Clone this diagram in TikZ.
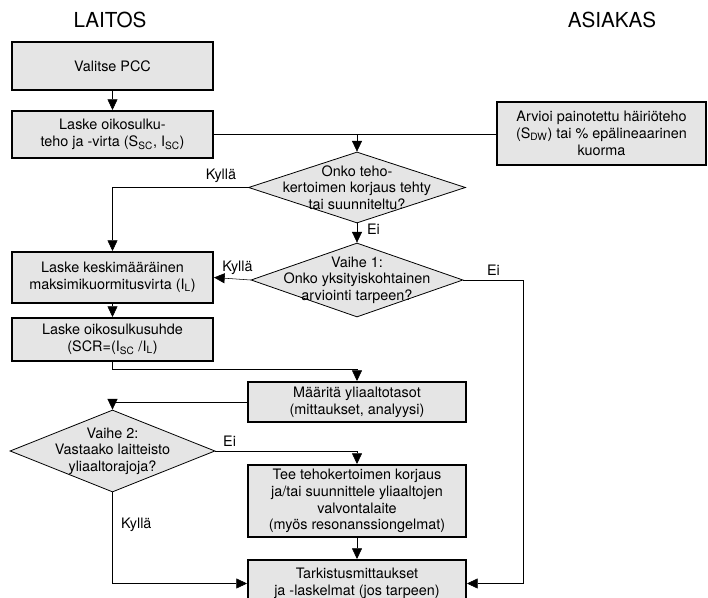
\documentclass[tikz,border=0pt]{standalone}
\usepackage{fontspec}
\setmainfont{TeX Gyre Heros}
\usetikzlibrary{shapes.geometric,arrows.meta}
\definecolor{boxgray}{gray}{0.9}

\begin{document}
\begin{tikzpicture}[x=0.75pt,y=-0.75pt,
    font=\fontsize{10.8}{12.5}\selectfont,
    >={Triangle[length=8pt,width=7.5pt]},
    box/.style={draw,line width=1.5pt,fill=boxgray,align=center,inner sep=0pt},
    decision/.style={draw,diamond,line width=0.6pt,fill=boxgray,inner sep=0pt},
    title/.style={font=\fontsize{15.5}{17}\selectfont}]
    \useasboundingbox (0,0) rectangle (708,598);
    \clip (0,0) rectangle (708,598);
    \node[title] (laitos) at (110,20) {LAITOS};
    \node[title] (asiakas) at (612,20) {ASIAKAS};
    \node[box,minimum width=150.75pt,minimum height=36pt] (valitse) at (112.5,66) {Valitse PCC};
    \node[box,minimum width=150.75pt,minimum height=35.25pt] (laske1) at (112.5,134.5) {Laske oikosulku-\\teho ja -virta (S\textsubscript{SC}, I\textsubscript{SC})};
    \node[box,minimum width=156.75pt,minimum height=47.25pt] (arvioi) at (601.5,133.5) {Arvioi painotettu häiriöteho\\(S\textsubscript{DW}) tai \% epälineaarinen\\kuorma};
    \node[decision,minimum width=162.75pt,minimum height=53.25pt,
        label={[align=center]center:{Onko teho-\\kertoimen korjaus tehty\\tai suunniteltu?}}] (d1) at (357,187.5) {};
    \node[decision,minimum width=159pt,minimum height=55.5pt,
        label={[align=center]center:{Vaihe 1:\\Onko yksityiskohtainen\\arviointi tarpeen?}}] (d2) at (357,280) {};
    \node[box,minimum width=150.75pt,minimum height=38.25pt] (laske2) at (112.5,277.5) {Laske keskimääräinen\\maksimikuormitusvirta (I\textsubscript{L})};
    \node[box,minimum width=150.75pt,minimum height=32.25pt] (laske3) at (112.5,339.5) {Laske oikosulkusuhde\\(SCR=(I\textsubscript{SC} /I\textsubscript{L})};
    \node[box,minimum width=163.5pt,minimum height=30pt] (maarita) at (357,402) {Määritä yliaaltotasot\\(mittaukset, analyysi)};
    \node[decision,minimum width=153.75pt,minimum height=61.5pt,
        label={[align=center]center:{Vaihe 2:\\Vastaako laitteisto\\yliaaltorajoja?}}] (d3) at (112.5,451) {};
    \node[box,minimum width=163.5pt,minimum height=54pt] (tee) at (357,501) {Tee tehokertoimen korjaus\\ja/tai suunnittele yliaaltojen\\valvontalaite\\(myös resonanssiongelmat)};
    \node[box,minimum width=163.5pt,minimum height=35.25pt] (tark) at (357,583.5) {Tarkistusmittaukset\\ja -laskelmat (jos tarpeen)};
    \draw [->] (valitse) -- (laske1);
    \draw (laske1.east) -- (laske1.east -| arvioi.west);
    \draw [->] (laske1.east -| d1.north) -- (d1.north);
    \draw [->] (d1.west) -| node [above,pos=0.1] {Kyllä} (laske2.north);
    \draw [->] (d1.south) -- node [right,pos=0.3,xshift=4pt] {Ei} (d2.north);
    \draw [->] (d2.west) -- node [above,pos=0.36] {Kyllä} (laske2.east);
    \draw [->] (d2.east) -- node [above,midway] {Ei} ++(60,0) |- (tark.east);
    \draw [->] (laske2) -- (laske3);
    \draw [->] (laske3.south) -- ++(0,7) -| (maarita.north);
    \draw [->] (maarita.west) -| (d3.north);
    \draw [->] (d3.east) -| node [above,pos=0.05] {Ei} (tee.north);
    \draw [->] (d3.south) |- node [right,pos=0.18,xshift=3pt] {Kyllä} (tark.west);
    \draw [->] (tee) -- (tark);
\end{tikzpicture}
\end{document}
